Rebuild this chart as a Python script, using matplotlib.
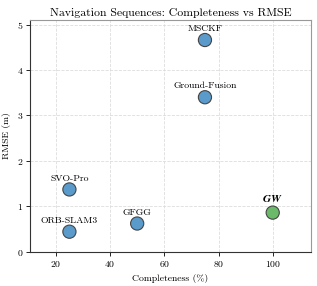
import matplotlib
matplotlib.use("Agg")
import matplotlib.pyplot as plt

# ---------- data ----------
methods      = ["MSCKF", "Ground-Fusion", "SVO-Pro", "ORB-SLAM3", "GFGG", "GW"]
completeness = [75, 75, 25, 25, 50, 100]
rmse         = [4.66, 3.40, 1.37, 0.44, 0.62, 0.86]
colors       = ["#5b9bcb"] * 5 + ["#6aba6a"]

plt.rcParams["font.family"] = "serif"
plt.rcParams["font.serif"] = ["cmr10", "DejaVu Serif"]
plt.rcParams["mathtext.fontset"] = "cm"
plt.rcParams["axes.formatter.use_mathtext"] = True
plt.rcParams["font.size"] = 7

fig, ax = plt.subplots(figsize=(3.17, 2.86), dpi=100)
fig.subplots_adjust(left=0.095, right=0.98, bottom=0.12, top=0.93)

ax.scatter(completeness, rmse, s=90, c=colors, edgecolors="#444444",
           linewidths=0.8, zorder=3)

for name, x, y in zip(methods, completeness, rmse):
    if name == "GW":
        ax.annotate(r"$\mathbfit{GW}$", (x, y), xytext=(0, 6), textcoords="offset points",
                    ha="center", va="bottom", fontsize=8)
    else:
        ax.annotate(name, (x, y), xytext=(0, 5), textcoords="offset points",
                    ha="center", va="bottom", fontsize=7)

ax.set_xlim(10.5, 114)
ax.set_ylim(0, 5.1)
ax.set_xticks([20, 40, 60, 80, 100])
ax.set_yticks([0, 1, 2, 3, 4, 5])
ax.set_xlabel("Completeness (%)")
ax.set_ylabel("RMSE (m)")
ax.set_title("Navigation Sequences: Completeness vs RMSE", fontsize=8.5, pad=3)
ax.grid(True, linestyle="--", color="#dddddd", linewidth=0.6, zorder=0)
ax.set_axisbelow(True)

for side in ["left", "bottom"]:
    ax.spines[side].set_color("#333333")
for side in ["top", "right"]:
    ax.spines[side].set_color("#999999")
ax.tick_params(length=3, width=0.6, pad=2)

plt.savefig("out.png", dpi=100)
